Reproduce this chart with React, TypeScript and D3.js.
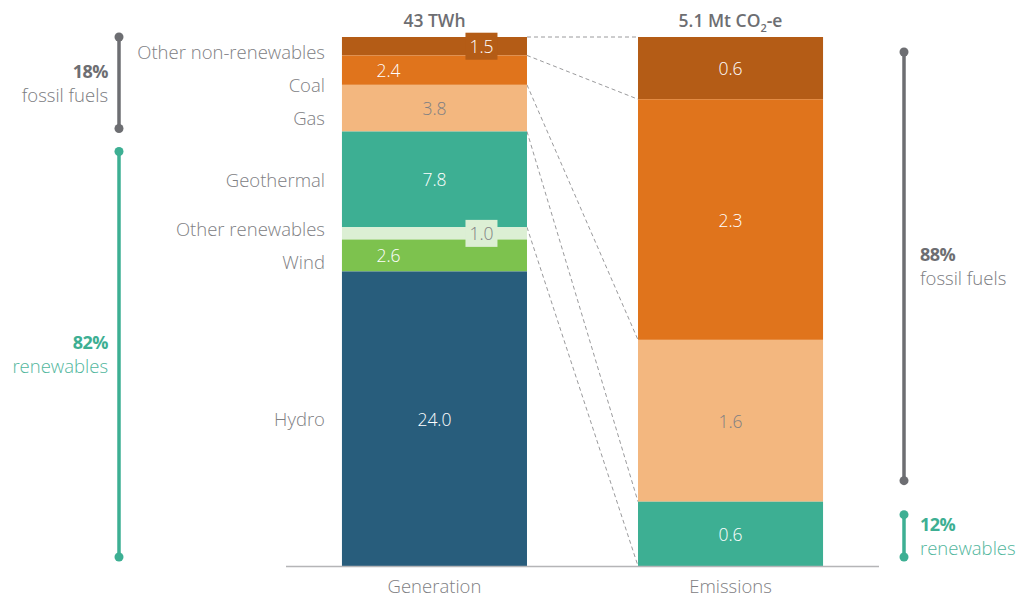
import React from "react";
import * as d3 from "d3";

const categories = ["Other non-renewables", "Coal", "Gas", "Geothermal", "Other renewables", "Wind", "Hydro"];
const generation = [1.5, 2.4, 3.8, 7.8, 1.0, 2.6, 24.0];
const emissions = [0.6, 2.32, 1.56, 0.62, 0, 0, 0];
const isFossil = [true, true, true, false, false, false, false];
const barNames = ["Generation", "Emissions"];
const barUnits = ["TWh", "Mt CO"];

const palette = ["#b45c16", "#e0741c", "#f3b77f", "#3daf93", "#dcefd4", "#7dc24e", "#285d7c"];
const lightText = [false, false, true, false, true, false, false];

const W = 1019, H = 599;
const TOP = 37, BASE = 566;
const FONT = "'Open Sans', 'DejaVu Sans', sans-serif";
const GRAY = "#6d6e72";
const TEAL = "#3daf93";
const LABEL = "#808083";
const LW = 350;

function stack(values: number[]) {
  const out: { y0: number; y1: number; v: number; i: number }[] = [];
  let acc = 0;
  values.forEach((v, i) => {
    out.push({ y0: acc, y1: acc + v, v, i });
    acc += v;
  });
  return out;
}

function relax(centers: number[], minGap: number, top: number) {
  const y = centers.slice();
  for (let it = 0; it < 200; it++) {
    for (let i = 0; i < y.length - 1; i++) {
      const g = y[i + 1] - y[i];
      if (g < minGap) {
        const d = (minGap - g) / 2;
        y[i] -= d;
        y[i + 1] += d;
      }
    }
    if (y[0] < top) y[0] = top;
  }
  return y;
}

function Bracket({ x, y0, y1, color, pct, text, side }: any) {
  const r = 4.5;
  const mid = (y0 + y1) / 2;
  const tx = side === "left" ? x - 11 : x + 16;
  const anchor = side === "left" ? "end" : "start";
  return (
    <g>
      <line x1={x} x2={x} y1={y0} y2={y1} stroke={color} strokeWidth={3.5} />
      <circle cx={x} cy={y0} r={r} fill={color} />
      <circle cx={x} cy={y1} r={r} fill={color} />
      <text x={tx} y={mid - 5} textAnchor={anchor} fontSize={18} fontWeight={700} fill={color} fontFamily={FONT} letterSpacing={-0.5}>
        {pct}
      </text>
      <text x={tx} y={mid + 19} textAnchor={anchor} fontSize={18.5} fontWeight={LW} fill={color} opacity={0.9} fontFamily={FONT}>
        {text}
      </text>
    </g>
  );
}

export default function App() {
  const x = d3.scaleBand<string>().domain(barNames).range([286, 879]).paddingInner(0.375).paddingOuter(0.189);
  const bw = x.bandwidth();
  const genTotal = d3.sum(generation);
  const emTotal = d3.sum(emissions);
  const yG = d3.scaleLinear().domain([0, genTotal]).range([TOP, BASE]);
  const yE = d3.scaleLinear().domain([0, emTotal]).range([TOP, BASE]);
  const gx = x("Generation")!;
  const ex = x("Emissions")!;
  const gStack = stack(generation);
  const eStack = stack(emissions);
  const fmt = d3.format(".1f");

  const emitting = emissions.map((v, i) => (v > 0 ? i : -1)).filter((i) => i >= 0);
  const conn: { a: number; b: number }[] = [];
  emitting.forEach((i) => conn.push({ a: yG(gStack[i].y0), b: yE(eStack[i].y0) }));
  const last = emitting[emitting.length - 1];
  conn.push({ a: yG(gStack[last].y1), b: yE(eStack[last].y1) });

  const centers = gStack.map((s) => (yG(s.y0) + yG(s.y1)) / 2);
  const labelY = relax(centers, 33, TOP + 14);

  const genFossil = d3.sum(generation.filter((_, i) => isFossil[i]));
  const emFossil = d3.sum(emissions.filter((_, i) => isFossil[i]));
  const pct = d3.format(".0%");
  const nFossil = isFossil.filter(Boolean).length;
  const gFossilBottom = yG(gStack[nFossil - 1].y1);
  const eFossilBottom = yE(eStack[nFossil - 1].y1);

  return (
    <svg width={W} height={H} style={{ position: "absolute", left: 0, top: 0 }} fontFamily={FONT}>
      <rect width={W} height={H} fill="#fff" />
      {conn.map((c, k) => (
        <line key={k} x1={gx + bw} x2={ex} y1={c.a} y2={c.b} stroke="#9a9a9c" strokeWidth={1} strokeDasharray="4,3" />
      ))}
      {gStack.map((s) => (
        <rect key={"g" + s.i} x={gx} y={yG(s.y0)} width={bw} height={yG(s.y1) - yG(s.y0)} fill={palette[s.i]} />
      ))}
      {eStack.filter((s) => s.v > 0).map((s) => (
        <rect key={"e" + s.i} x={ex} y={yE(s.y0)} width={bw} height={yE(s.y1) - yE(s.y0)} fill={palette[s.i]} />
      ))}
      {gStack.map((s) => {
        const h = yG(s.y1) - yG(s.y0);
        const cy = (yG(s.y0) + yG(s.y1)) / 2;
        const cx = gx + bw / 2;
        let tx = cx;
        let boxed = false;
        if (h < 20) {
          tx = cx + 47;
          boxed = true;
        } else if (h < 40) {
          tx = cx - 46;
        }
        return (
          <g key={"gl" + s.i}>
            {boxed && <rect x={tx - 16} y={cy - 13.5} width={32} height={27} fill={palette[s.i]} />}
            <text x={tx} y={cy} dy="0.4em" textAnchor="middle" fontSize={17.5} fontWeight={LW} fill={lightText[s.i] ? LABEL : "#fff"}>
              {fmt(s.v)}
            </text>
          </g>
        );
      })}
      {eStack.filter((s) => s.v > 0).map((s) => (
        <text key={"el" + s.i} x={ex + bw / 2} y={(yE(s.y0) + yE(s.y1)) / 2} dy="0.4em" textAnchor="middle" fontSize={17.5} fontWeight={LW} fill={lightText[s.i] ? LABEL : "#fff"}>
          {fmt(s.v)}
        </text>
      ))}
      {categories.map((c, i) => (
        <text key={c} x={gx - 17} y={labelY[i]} dy="0.42em" textAnchor="end" fontSize={18.5} fontWeight={LW} fill={LABEL}>
          {c}
        </text>
      ))}
      <text x={gx + bw / 2} y={TOP - 10} textAnchor="middle" fontSize={17.5} fontWeight={600} fill={GRAY}>
        {d3.format(".0f")(genTotal)} {barUnits[0]}
      </text>
      <text x={ex + bw / 2} y={TOP - 10} textAnchor="middle" fontSize={17.5} fontWeight={600} fill={GRAY}>
        {fmt(emTotal)} {barUnits[1]}
        <tspan fontSize={11} dy={5}>2</tspan>
        <tspan dy={-5}>-e</tspan>
      </text>
      <line x1={286} x2={879} y1={BASE + 0.5} y2={BASE + 0.5} stroke="#b5b5b7" strokeWidth={1.5} />
      {barNames.map((b) => (
        <text key={b} x={x(b)! + bw / 2} y={BASE + 27} textAnchor="middle" fontSize={18.5} fontWeight={LW} fill={LABEL}>
          {b}
        </text>
      ))}
      <Bracket x={119} y0={TOP} y1={gFossilBottom - 3} color={GRAY} pct={pct(genFossil / genTotal)} text="fossil fuels" side="left" />
      <Bracket x={119} y0={gFossilBottom + 20} y1={BASE - 9} color={TEAL} pct={pct(1 - genFossil / genTotal)} text="renewables" side="left" />
      <Bracket x={904} y0={TOP + 15} y1={eFossilBottom - 21} color={GRAY} pct={pct(emFossil / emTotal)} text="fossil fuels" side="right" />
      <Bracket x={904} y0={eFossilBottom + 13} y1={BASE - 9} color={TEAL} pct={pct(1 - emFossil / emTotal)} text="renewables" side="right" />
    </svg>
  );
}
